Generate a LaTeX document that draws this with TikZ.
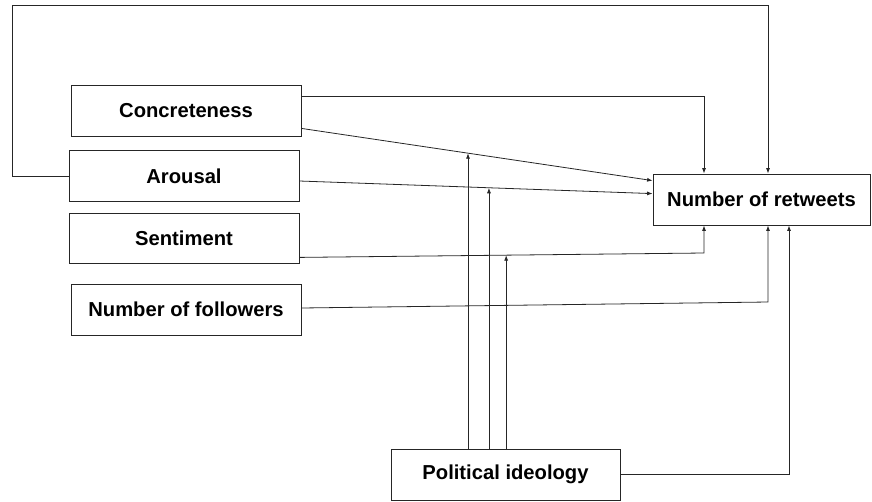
\documentclass[tikz,border=0pt]{standalone}
\usepackage{fontspec}
\setmainfont{Liberation Sans}
\usetikzlibrary{arrows.meta,calc}
\begin{document}
\begin{tikzpicture}[x=1pt,y=-1pt,
  box/.style={draw=black!85,line width=0.8pt,minimum width=230pt,minimum height=51pt,inner sep=0pt,
    font=\fontsize{20.2}{24}\selectfont\bfseries,text=black},
  link/.style={draw=black!85,line width=0.8pt},
  arr/.style={link,-{Latex[length=5.5pt,width=4pt]}}]
\useasboundingbox (0,0) rectangle (872,501);
% nodes
\node[box] (conc) at (186,110.5) {Concreteness};
\node[box] (arou) at (184,176) {Arousal};
\node[box,minimum height=50pt] (sent) at (184,238) {Sentiment};
\node[box] (foll) at (186,309.5) {Number of followers};
\node[box,minimum width=217pt] (retw) at (761.5,199.5) {Number of retweets};
\node[box,minimum width=229pt] (pol) at (505.5,474.5) {Political ideology};
% helper coordinates
\coordinate (xA) at (768,0);
\coordinate (xB) at (704,0);
\coordinate (xC) at (789,0);
\coordinate (loopc) at (12,5.5);
\coordinate (cA1) at ([yshift=8pt]conc.south east);
\coordinate (rA1) at ([yshift=-7pt]retw.north west);
\coordinate (cA2) at ([yshift=-5pt]arou.east);
\coordinate (rA2) at ([yshift=-20pt]retw.north west);
\coordinate (cS1) at ([yshift=6pt]sent.south east);
\coordinate (cS2) at (704,253);
\coordinate (cF1) at ([yshift=1.5pt]foll.east);
\coordinate (cF2) at (768,302);
\coordinate (m1) at ($(cA1)!0.4744!(rA1)$);
\coordinate (m2) at ($(cA2)!0.5367!(rA2)$);
\coordinate (m3) at ($(cS1)!0.511!(cS2)$);
% connectors
\draw[arr] (arou.west) -| (loopc) -| (retw.north -| xA);
\draw[arr] ([yshift=-12pt]conc.north east) -| (retw.north -| xB);
\draw[arr] (cA1) -- (rA1);
\draw[arr] (cA2) -- (rA2);
\draw[arr] (cS1) -- (cS2) -- (retw.south -| xB);
\draw[arr] (cF1) -- (cF2) -- (retw.south -| xA);
\draw[arr] (pol.east) -| (retw.south -| xC);
\draw[arr] (pol.north -| m1) -- (m1);
\draw[arr] (pol.north -| m2) -- (m2);
\draw[arr] (pol.north -| m3) -- (m3);
\end{tikzpicture}
\end{document}
